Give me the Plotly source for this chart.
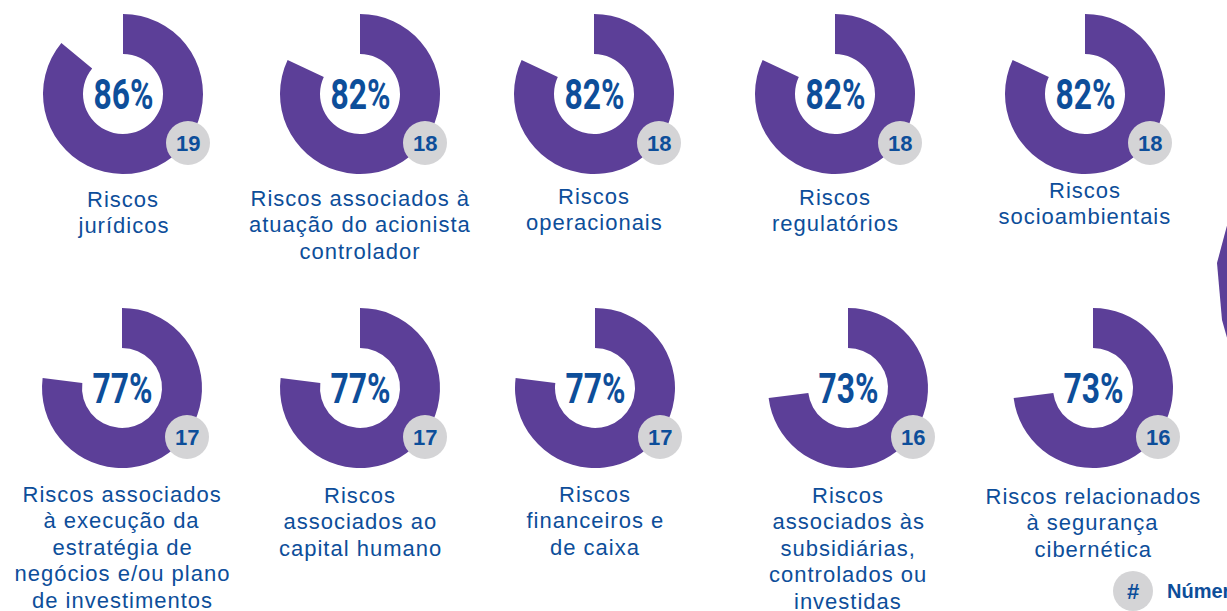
import plotly.graph_objects as go

W, H = 1227, 611

percentuais = [86, 82, 82, 82, 82, 77, 77, 77, 73, 73]
empresas = [19, 18, 18, 18, 18, 17, 17, 17, 16, 16]
rotulos = [
    "Riscos<br>jurídicos",
    "Riscos associados à<br>atuação do acionista<br>controlador",
    "Riscos<br>operacionais",
    "Riscos<br>regulatórios",
    "Riscos<br>socioambientais",
    "Riscos associados<br>à execução da<br>estratégia de<br>negócios e/ou plano<br>de investimentos",
    "Riscos<br>associados ao<br>capital humano",
    "Riscos<br>financeiros e<br>de caixa",
    "Riscos<br>associados às<br>subsidiárias,<br>controlados ou<br>investidas",
    "Riscos relacionados<br>à segurança<br>cibernética",
]

roxo = "#5C3F98"
azul = "#0D4E9A"
cinza = "#D4D4D6"

# layout positions in px (from top-left)
cx = [123, 360, 594, 835, 1085, 122, 360, 595, 848, 1093]
cy = [94] * 5 + [388] * 5
linha1 = [199, 198, 196, 197, 190, 494, 495, 494, 495, 496]
R = 80
LH = 26.5

fig = go.Figure()

# invisible trace so the pixel axes exist
fig.add_trace(go.Scatter(x=[0], y=[0], mode="markers", marker=dict(opacity=0),
                         hoverinfo="skip", showlegend=False))

for i, p in enumerate(percentuais):
    fig.add_trace(go.Pie(
        values=[p, 100 - p],
        marker=dict(colors=[roxo, "rgba(0,0,0,0)"]),
        hole=0.5, sort=False, direction="clockwise", rotation=0,
        textinfo="none", hoverinfo="skip", showlegend=False,
        domain=dict(x=[(cx[i] - R) / W, (cx[i] + R) / W],
                    y=[1 - (cy[i] + R) / H, 1 - (cy[i] - R) / H]),
    ))

numfont = dict(family="Liberation Sans, Arial", size=22, color=azul)
pctfont = dict(family="Liberation Sans Narrow, Roboto, sans-serif", size=43, color=azul)
labfont = dict(family="Liberation Sans, Arial", size=22, color=azul)

for i, p in enumerate(percentuais):
    bx, by = cx[i] + 65, cy[i] + 49
    fig.add_shape(type="circle", x0=bx - 22, x1=bx + 22, y0=by - 22, y1=by + 22,
                  fillcolor=cinza, line=dict(width=0), layer="above")
    fig.add_annotation(x=bx, y=by, text=f"<b>{empresas[i]}</b>", showarrow=False, font=numfont)
    fig.add_annotation(x=cx[i], y=cy[i], text=f"<b>{p}%</b>", showarrow=False, font=pctfont,
                       xanchor="center", yanchor="middle")
    for k, linha in enumerate(rotulos[i].split("<br>")):
        fig.add_annotation(x=cx[i], y=linha1[i] + k * LH, text=linha, showarrow=False,
                           font=labfont, xanchor="center", yanchor="middle")

# legend badge at the bottom right (cut off by the page edge)
fig.add_shape(type="circle", x0=1113, x1=1153, y0=571, y1=611,
              fillcolor=cinza, line=dict(width=0), layer="above")
fig.add_annotation(x=1133, y=591, text="<b>#</b>", showarrow=False, font=numfont)
fig.add_annotation(x=1165, y=591, text="<b>Número de empresas</b>", showarrow=False,
                   font=dict(family="Liberation Sans, Arial", size=20, color=azul),
                   xanchor="left", yanchor="middle")

# edge of the next graphic on the right
fig.add_shape(type="path", path="M 1229 218 L 1217 263 L 1222 320 L 1229 345 Z",
              fillcolor=roxo, line=dict(width=0), layer="below")

fig.update_layout(
    width=W, height=H, margin=dict(l=0, r=0, t=0, b=0),
    paper_bgcolor="white", plot_bgcolor="rgba(0,0,0,0)",
    xaxis=dict(range=[0, W], visible=False, fixedrange=True),
    yaxis=dict(range=[H, 0], visible=False, fixedrange=True),
)

# no body margin; condensed percentages and tracked labels
js = """
document.body.style.margin='0';
document.querySelectorAll('text.annotation-text').forEach(function(t){
  var s = t.textContent;
  if (s.endsWith('%')) {
    t.style.transformBox = 'fill-box';
    t.style.transformOrigin = 'center';
    t.style.transform = 'scaleX(0.74)';
  } else if (!/^[0-9#]+$/.test(s) && s.indexOf('Número') < 0) {
    t.style.letterSpacing = '1px';
  }
});
"""

fig.write_html("out.html", config={"displayModeBar": False}, post_script=js)
